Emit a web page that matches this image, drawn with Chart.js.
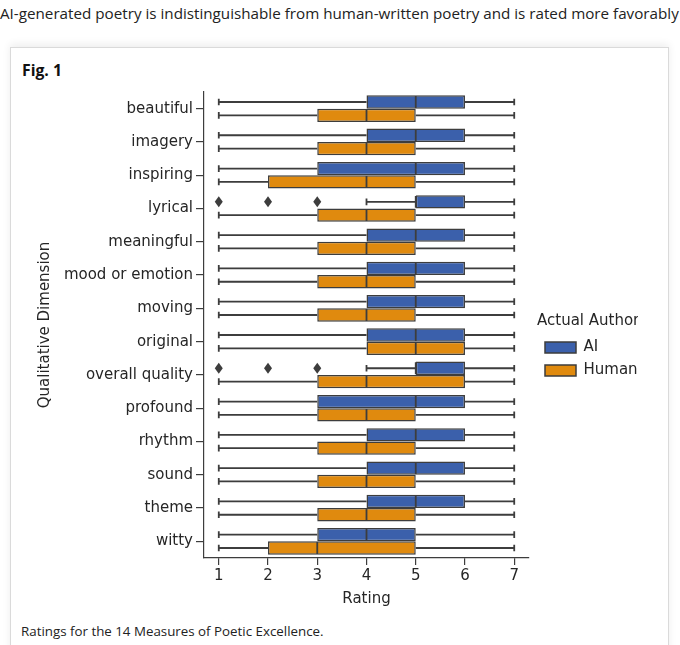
<!DOCTYPE html>
<html>
<head>
<meta charset="utf-8">
<script src="https://cdn.jsdelivr.net/npm/chart.js@4.4.1/dist/chart.umd.min.js"></script>
<style>
  html, body { margin:0; padding:0; background:#fff; width:680px; height:645px; overflow:hidden; font-family:"Open Sans","Noto Sans",sans-serif; }
  #headline { position:absolute; left:0; top:3px; font-size:14.6px; color:#222; white-space:nowrap; }
  #card { position:absolute; left:10px; top:47px; width:657px; height:640px; border:1px solid #dadada; box-shadow:0 -3px 8px rgba(0,0,0,0.07); background:#fff; }
  #fig { position:absolute; left:22px; top:59px; font-weight:bold; font-size:15px; color:#111; white-space:nowrap; }
  #chartbox { position:absolute; left:20px; top:80px; width:640px; height:540px; }
  #caption { position:absolute; left:21px; top:622px; font-size:13px; color:#222; white-space:nowrap; }
</style>
</head>
<body>
<div id="headline">AI-generated poetry is indistinguishable from human-written poetry and is rated more favorably</div>
<div id="card"></div>
<div id="fig">Fig. 1</div>
<div id="chartbox"><canvas id="c"></canvas></div>
<div id="caption">Ratings for the 14 Measures of Poetic Excellence.</div>
<script>
// ---- data ----
const categories = ['beautiful','imagery','inspiring','lyrical','meaningful','mood or emotion','moving','original','overall quality','profound','rhythm','sound','theme','witty'];
const seriesNames = ['AI','Human'];
const legendTitle = 'Actual Author';
const xTitle = 'Rating';
const yTitle = 'Qualitative Dimension';
const xTicks = [1,2,3,4,5,6,7];

const aiMin    = [1,1,1,4,1,1,1,1,4,1,1,1,1,1];
const aiQ1     = [4,4,3,5,4,4,4,4,5,3,4,4,4,3];
const aiMedian = [5,5,5,5,5,5,5,5,5,5,5,5,5,4];
const aiQ3     = [6,6,6,6,6,6,6,6,6,6,6,6,6,5];
const aiMax    = [7,7,7,7,7,7,7,7,7,7,7,7,7,7];
const aiOutliers = [[],[],[],[1,2,3],[],[],[],[],[1,2,3],[],[],[],[],[]];

const humanMin    = [1,1,1,1,1,1,1,1,1,1,1,1,1,1];
const humanQ1     = [3,3,2,3,3,3,3,4,3,3,3,3,3,2];
const humanMedian = [4,4,4,4,4,4,4,5,4,4,4,4,4,3];
const humanQ3     = [5,5,5,5,5,5,5,6,6,5,5,5,5,5];
const humanMax    = [7,7,7,7,7,7,7,7,7,7,7,7,7,7];
const humanOutliers = [[],[],[],[],[],[],[],[],[],[],[],[],[],[]];

function fitWidth(id, target) {
  const el = document.getElementById(id);
  const w = el.getBoundingClientRect().width;
  const fs = parseFloat(getComputedStyle(el).fontSize);
  el.style.fontSize = (fs * target / w) + 'px';
}
fitWidth('headline', 679);
fitWidth('fig', 40);
fitWidth('caption', 303);

const F = { family: 'DejaVu Sans', size: 15 };
const lineColor = '#3d3d3d';
const textColor = '#262626';
const colors = ['#3b60ab', '#e08a0e'];

const stats = [
  {min: aiMin, q1: aiQ1, med: aiMedian, q3: aiQ3, max: aiMax, out: aiOutliers},
  {min: humanMin, q1: humanQ1, med: humanMedian, q3: humanQ3, max: humanMax, out: humanOutliers}
];

const boxPlugin = {
  id: 'boxWhiskers',
  afterDatasetsDraw(chart) {
    const ctx = chart.ctx;
    const xs = chart.scales.x;
    const px = v => xs.getPixelForValue(v);
    ctx.save();
    stats.forEach((s, di) => {
      const meta = chart.getDatasetMeta(di);
      meta.data.forEach((bar, i) => {
        const {y, height} = bar.getProps(['y', 'height'], true);
        const h = height;
        const cap = h * 0.25;
        ctx.strokeStyle = lineColor;
        ctx.lineWidth = 1.8;
        ctx.beginPath();
        ctx.moveTo(px(s.min[i]), y); ctx.lineTo(px(s.q1[i]), y);
        ctx.moveTo(px(s.q3[i]), y); ctx.lineTo(px(s.max[i]), y);
        ctx.moveTo(px(s.min[i]), y - cap); ctx.lineTo(px(s.min[i]), y + cap);
        ctx.moveTo(px(s.max[i]), y - cap); ctx.lineTo(px(s.max[i]), y + cap);
        ctx.moveTo(px(s.med[i]), y - h / 2 + 0.75); ctx.lineTo(px(s.med[i]), y + h / 2 - 0.75);
        ctx.stroke();
        ctx.fillStyle = lineColor;
        s.out[i].forEach(v => {
          const x = px(v);
          ctx.beginPath();
          ctx.moveTo(x, y - 5.5); ctx.lineTo(x + 4, y); ctx.lineTo(x, y + 5.5); ctx.lineTo(x - 4, y);
          ctx.closePath();
          ctx.fill();
        });
      });
    });
    ctx.restore();
  }
};

Chart.defaults.font.family = F.family;
Chart.defaults.font.size = 15;
Chart.defaults.color = textColor;

new Chart(document.getElementById('c'), {
  type: 'bar',
  data: {
    labels: categories,
    datasets: seriesNames.map((name, di) => ({
      label: name,
      data: categories.map((c, i) => [stats[di].q1[i], stats[di].q3[i]]),
      backgroundColor: colors[di],
      borderColor: lineColor,
      borderWidth: 1.5,
      borderSkipped: false,
      categoryPercentage: 0.8,
      barPercentage: 1.0
    }))
  },
  options: {
    indexAxis: 'y',
    responsive: true,
    maintainAspectRatio: false,
    animation: false,
    layout: { padding: { left: 12, top: 9, bottom: 9, right: 22 } },
    plugins: {
      tooltip: { enabled: false },
      legend: {
        position: 'right',
        fullSize: true,
        align: 'center',
        title: { display: true, text: legendTitle, padding: 0, position: 'start', color: textColor, font: F },
        labels: { boxWidth: 31, boxHeight: 11, padding: 8, color: textColor, font: F }
      }
    },
    scales: {
      x: {
        type: 'linear', min: 0.7, max: 7.3,
        afterBuildTicks: s => { s.ticks = xTicks.map(v => ({ value: v })); },
        afterFit: s => { s.height = 53; },
        grid: { drawOnChartArea: false, tickLength: 7, color: lineColor, lineWidth: 1.2 },
        border: { color: lineColor, width: 1.2 },
        ticks: { padding: 2, color: textColor, font: F },
        title: { display: true, text: xTitle, color: textColor, padding: { top: 4, bottom: 3 }, font: F }
      },
      y: {
        type: 'category', position: 'left',
        afterFit: s => { s.width = 172; },
        grid: { offset: false, drawOnChartArea: false, tickLength: 8, color: lineColor, lineWidth: 1.2 },
        border: { color: lineColor, width: 1.2 },
        ticks: { padding: 3, autoSkip: false, color: textColor, font: F },
        title: { display: true, text: yTitle, color: textColor, padding: { top: 4, bottom: 4 }, font: F }
      },
      gap: {
        type: 'category', position: 'right', display: true,
        afterFit: s => { s.width = 8; },
        grid: { display: false }, border: { display: false }, ticks: { display: false }
      }
    }
  },
  plugins: [boxPlugin]
});
</script>
</body>
</html>
